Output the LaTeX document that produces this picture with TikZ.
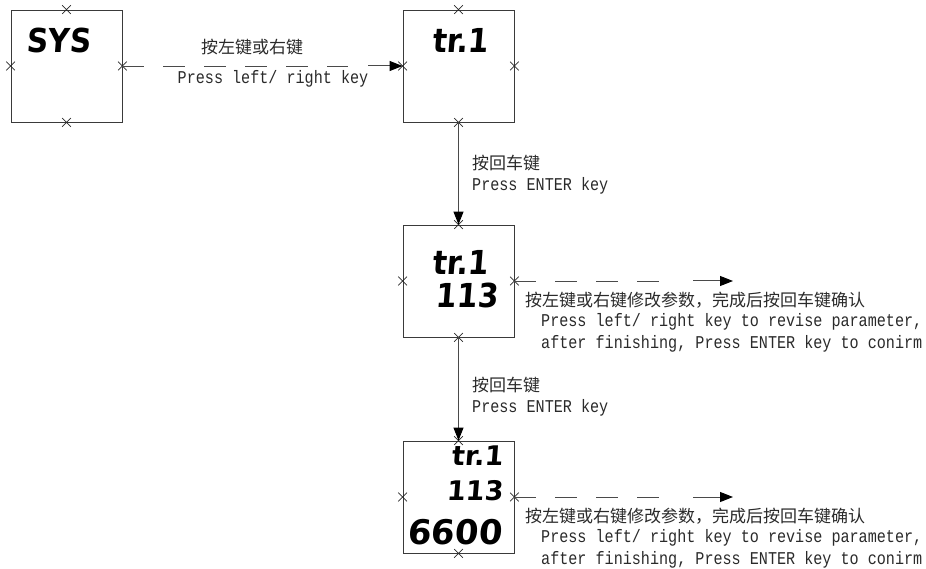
\documentclass[tikz,border=0pt]{standalone}
\usepackage{fontspec}
\usetikzlibrary{arrows.meta,shapes.misc}
\newfontfamily\cjkfont{Noto Sans CJK SC}
\newfontfamily\enfont[FakeStretch=0.84]{Liberation Mono}
\newfontfamily\segfont[FakeSlant=0.08]{DejaVu Sans Condensed}
\newfontfamily\segwide[FakeSlant=0.08]{DejaVu Sans}
\definecolor{ink}{HTML}{2A2A2A}
\definecolor{linegray}{HTML}{3A3A3A}
\definecolor{arrgray}{HTML}{4A4A4A}
\tikzset{
  dispbox/.style={draw=linegray,line width=0.9pt,minimum width=111pt,minimum height=112pt,inner sep=0pt},
  xmk/.style={draw=ink,cross out,line width=0.7pt,minimum size=8pt,inner sep=0pt},
  seg/.style={inner sep=0pt,text=black,font=\segfont\bfseries\fontsize{33}{33}\selectfont},
  segw/.style={inner sep=0pt,text=black,font=\segwide\bfseries\fontsize{27}{27}\selectfont},
  segbig/.style={inner sep=0pt,text=black,font=\segwide\bfseries\fontsize{34}{34}\selectfont},
  cn/.style={inner sep=0pt,text=ink,font=\cjkfont\fontsize{17}{20}\selectfont},
  en/.style={inner sep=0pt,text=ink,font=\enfont\fontsize{18}{22}\selectfont},
  tipst/.style={-{Triangle[length=13pt,width=10pt,fill=black,color=black]}},
  dashline/.style={draw=arrgray,line width=0.9pt,dash pattern=on 22pt off 19pt},
  solidarr/.style={draw=arrgray,line width=1pt,tipst},
}
\begin{document}
\begin{tikzpicture}[x=1pt,y=-1pt]
\useasboundingbox (0,0) rectangle (926,569);
% boxes
\node[dispbox] (b1) at (66.5,66) {};
\node[dispbox] (b2) at (458.5,66) {};
\node[dispbox] (b3) at (458.5,281) {};
\node[dispbox] (b4) at (458.5,497) {};
% crosses
\foreach \b in {b1,b2,b3,b4}{
  \foreach \s in {north,south,east,west}{
    \node[xmk] at (\b.\s) {};
  }
}
% display texts
\node[seg,anchor=west] (t1) at (26,40) {SYS};
\node[seg,anchor=west] (t2) at (432,40) {tr.1};
\node[seg,anchor=west] (t3a) at (432,262) {tr.1};
\node[seg,anchor=east] (t3b) at (498,295) {113};
\node[segw,anchor=east] (t4a) at (503,456) {tr.1};
\node[segw,anchor=east] (t4b) at (503,491) {113};
\node[segbig,anchor=east] (t4c) at (502,532) {6600};
% connectors
\coordinate (d1e) at (348,66);
\coordinate (d1s) at (368,66);
\draw[dashline] (b1.east) -- (d1e);
\draw[solidarr] (d1s) -- (b2.west);
\draw[solidarr] (b2.south) -- (b3.north);
\draw[solidarr] (b3.south) -- (b4.north);
\coordinate (d3e) at (660,281);
\coordinate (d3s) at (693,281);
\coordinate (e3) at (733,281);
\draw[dashline] (b3.east) -- (d3e);
\draw[solidarr] (d3s) -- (e3);
\coordinate (d4e) at (660,497);
\coordinate (d4s) at (693,497);
\coordinate (e4) at (733,497);
\draw[dashline] (b4.east) -- (d4e);
\draw[solidarr] (d4s) -- (e4);
% labels
\node[cn] (l1a) at (252,47) {按左键或右键};
\node[en] (l1b) at (273,79) {Press left/ right key};
\node[cn,anchor=west] (l2a) at (472,163) {按回车键};
\node[en,anchor=west] (l2b) at (472,186) {Press ENTER key};
\node[cn,anchor=west] (l3a) at (472,385) {按回车键};
\node[en,anchor=west] (l3b) at (472,408) {Press ENTER key};
\node[cn,anchor=west] (l4a) at (525,300) {按左键或右键修改参数，完成后按回车键确认};
\node[en,anchor=west] (l4b) at (541,322) {Press left/ right key to revise parameter,};
\node[en,anchor=west] (l4c) at (541,344) {after finishing, Press ENTER key to conirm};
\node[cn,anchor=west] (l5a) at (525,516) {按左键或右键修改参数，完成后按回车键确认};
\node[en,anchor=west] (l5b) at (541,538) {Press left/ right key to revise parameter,};
\node[en,anchor=west] (l5c) at (541,560) {after finishing, Press ENTER key to conirm};
\end{tikzpicture}
\end{document}
